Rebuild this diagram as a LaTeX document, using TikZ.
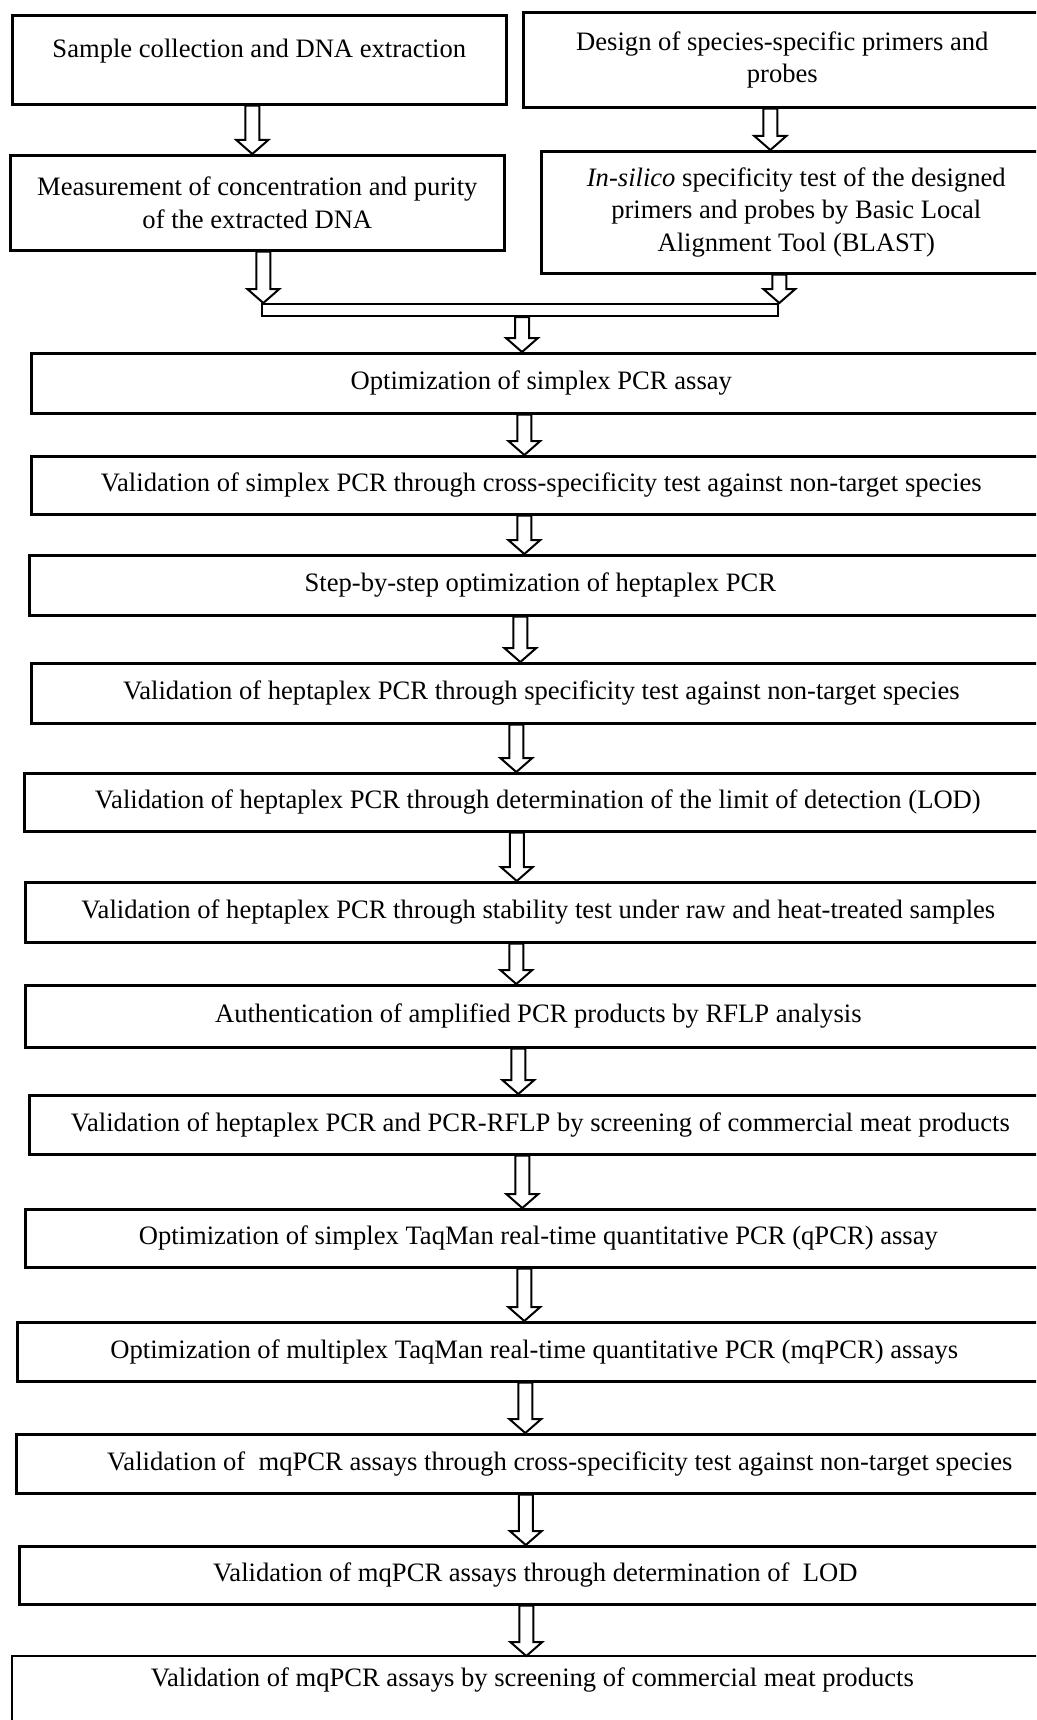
\documentclass[tikz,border=0pt]{standalone}
\usepackage{fontspec}
\setmainfont{Liberation Serif}
\usepackage{tikz}
\usetikzlibrary{calc,positioning}

% hollow block arrow going straight down from one box to the next
\newcommand{\flowarrow}[3]{%
  \draw [flow] let \p1=([xshift=#3]#1.south), \p2=(#2.north) in
    (\x1-7pt,\y1) -- (\x1-7pt,\y2+14pt) -- (\x1-16pt,\y2+14pt) -- (\x1,\y2)
    -- (\x1+16pt,\y2+14pt) -- (\x1+7pt,\y2+14pt) -- (\x1+7pt,\y1) -- cycle;}

\begin{document}
\begin{tikzpicture}[
    x=1pt, y=-1pt,
    font=\fontsize{26.6}{32.5}\selectfont,
    stage/.style={
        rectangle,
        draw=black,
        line width=2.6pt,
        align=center,
        anchor=north west,
        inner sep=0pt
    },
    flow/.style={
        draw=black,
        line width=2pt,
        line join=miter
    }
  ]
  \useasboundingbox (0,0) rectangle (1036,1720);
  \clip (0,0) rectangle (1036,1720);

  % the two starting columns
  \node [stage, minimum width=494, minimum height=89, text depth=24pt] (sample) at (11,14)
    {Sample collection and DNA extraction};
  \node [stage, minimum width=518, minimum height=95] (design) at (522,11)
    {Design of species-specific primers and\\probes};
  \node [stage, minimum width=494, minimum height=95] (measure) at (9,154)
    {Measurement of concentration and purity\\of the extracted DNA};
  \node [stage, minimum width=510, minimum height=122] (insilico) at (540,150)
    {\textit{In-silico} specificity test of the designed\\primers and probes by Basic Local\\Alignment Tool (BLAST)};
  \node [stage, line width=2pt, minimum width=516, minimum height=12] (merge) at (261,303) {};

  % the main chain of steps
  \node [stage, minimum width=1020, minimum height=60] (optsimplex) at (30,352)
    {Optimization of simplex PCR assay};
  \node [stage, minimum width=1020, minimum height=58] (crossspec) at (30,455)
    {Validation of simplex PCR through cross-specificity test against non-target species};
  \node [stage, minimum width=1022, minimum height=60] (stepwise) at (28,554)
    {Step-by-step optimization of heptaplex PCR};
  \node [stage, minimum width=1020, minimum height=60] (heptaspec) at (30,662)
    {Validation of heptaplex PCR through specificity test against non-target species};
  \node [stage, minimum width=1027, minimum height=58] (heptalod) at (23,772)
    {Validation of heptaplex PCR through determination of the limit of detection (LOD)};
  \node [stage, minimum width=1026, minimum height=60] (stability) at (24,881)
    {Validation of heptaplex PCR through stability test under raw and heat-treated samples};
  \node [stage, minimum width=1026, minimum height=62] (rflp) at (24,984)
    {Authentication of amplified PCR products by RFLP analysis};
  \node [stage, minimum width=1022, minimum height=59] (screening) at (28,1094)
    {Validation of heptaplex PCR and PCR-RFLP by screening of commercial meat products};
  \node [stage, minimum width=1026, minimum height=58] (qpcr) at (24,1208)
    {Optimization of simplex TaqMan real-time quantitative PCR (qPCR) assay};
  \node [stage, minimum width=1034, minimum height=59] (mqpcr) at (16,1321)
    {Optimization of multiplex TaqMan real-time quantitative PCR (mqPCR) assays};
  \node [stage, minimum width=1035, minimum height=59] (mqspec) at (15,1433)
    {\hspace*{52pt}Validation of\ \ mqPCR assays through cross-specificity test against non-target species};
  \node [stage, minimum width=1032, minimum height=58] (mqlod) at (18,1545)
    {Validation of mqPCR assays through determination of\ \ LOD};
  \node [stage, draw=none, minimum width=1038, minimum height=46] (mqscreen) at (12,1656)
    {Validation of mqPCR assays by screening of commercial meat products};
  \draw [line width=2.6pt] (mqscreen.north east) -- (mqscreen.north west) -- ++(0,80);

  % arrows
  \flowarrow{sample}{measure}{-7}
  \flowarrow{design}{insilico}{-12}
  \flowarrow{measure}{merge}{6}
  \flowarrow{insilico}{merge}{-17}
  \flowarrow{merge}{optsimplex}{2}
  \flowarrow{optsimplex}{crossspec}{-17}
  \flowarrow{crossspec}{stepwise}{-17}
  \flowarrow{stepwise}{heptaspec}{-20}
  \flowarrow{heptaspec}{heptalod}{-25}
  \flowarrow{heptalod}{stability}{-21}
  \flowarrow{stability}{rflp}{-22}
  \flowarrow{rflp}{screening}{-20}
  \flowarrow{screening}{qpcr}{-18}
  \flowarrow{qpcr}{mqpcr}{-14}
  \flowarrow{mqpcr}{mqspec}{-9}
  \flowarrow{mqspec}{mqlod}{-8}
  \flowarrow{mqlod}{mqscreen}{-9}
\end{tikzpicture}
\end{document}
